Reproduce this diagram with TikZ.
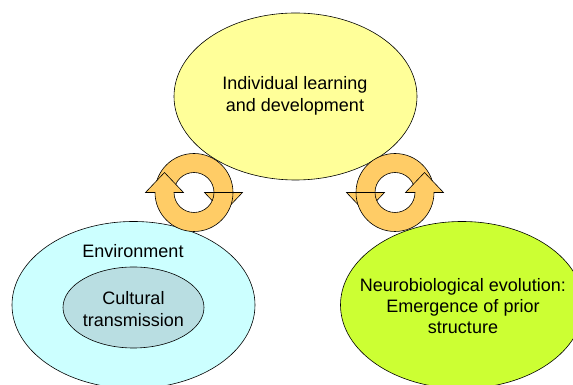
\documentclass[tikz,border=0pt]{standalone}
\usepackage{fontspec}
\setmainfont{Liberation Sans}
\usepackage{tikz}
\usetikzlibrary{shapes.geometric}

\definecolor{ideayellow}{HTML}{FFFF99}
\definecolor{envcyan}{HTML}{CCFFFF}
\definecolor{culturegray}{HTML}{B9DEE2}
\definecolor{neurolime}{HTML}{CCFF33}
\definecolor{cycleorange}{HTML}{FFCC66}

\begin{document}
\begin{tikzpicture}[x=1pt,y=1pt,
  blob/.style={ellipse, draw, line width=0.6pt, minimum width=243pt, minimum height=167pt, inner sep=0pt},
  label/.style={align=center, font=\fontsize{18}{21.3}\selectfont},
  ring/.style={draw, fill=cycleorange, line width=0.6pt, line join=miter}]
\useasboundingbox (0,0) rectangle (573,385);
% Individual learning in the middle, the two sources of structure below
\node[blob, fill=ideayellow] (indiv) at (295.5,288.5) {};
\node[label] at (295,289) {Individual learning\\and development};
\node[blob, fill=envcyan] (env) at (133.5,80) {};
\node[label] (envtext) at (133,134) {Environment};
\node[ellipse, draw, line width=0.6pt, fill=culturegray, minimum width=141pt, minimum height=81pt] (culture) at (133.5,77.5) {};
\node[label] at (133.5,76) {Cultural\\transmission};
\node[blob, fill=neurolime] (neuro) at (462,80) {};
\node[label] at (463,79) {Neurobiological evolution:\\Emergence of prior\\structure};
% left cycle, turning clockwise
\begin{scope}[shift={(194,192.5)}]
\draw[ring] (-20,0) -- (-39,0) arc[start angle=180, end angle=0, radius=39]
  -- (48.5,0) -- (29.5,-20) -- (10.5,0) -- (20,0) arc[start angle=0, end angle=180, radius=20] -- cycle;
\draw[ring] (20,0) -- (39,0) arc[start angle=0, end angle=-180, radius=39]
  -- (-48.5,0) -- (-29.5,20) -- (-10.5,0) -- (-20,0) arc[start angle=-180, end angle=0, radius=20] -- cycle;
\end{scope}
% right cycle, turning the other way
\begin{scope}[shift={(395,192.5)}]
\draw[ring] (20,0) -- (39,0) arc[start angle=0, end angle=180, radius=39]
  -- (-48.5,0) -- (-29.5,-20) -- (-10.5,0) -- (-20,0) arc[start angle=180, end angle=0, radius=20] -- cycle;
\draw[ring] (-20,0) -- (-39,0) arc[start angle=180, end angle=360, radius=39]
  -- (48.5,0) -- (29.5,20) -- (10.5,0) -- (20,0) arc[start angle=360, end angle=180, radius=20] -- cycle;
\end{scope}
\end{tikzpicture}
\end{document}
